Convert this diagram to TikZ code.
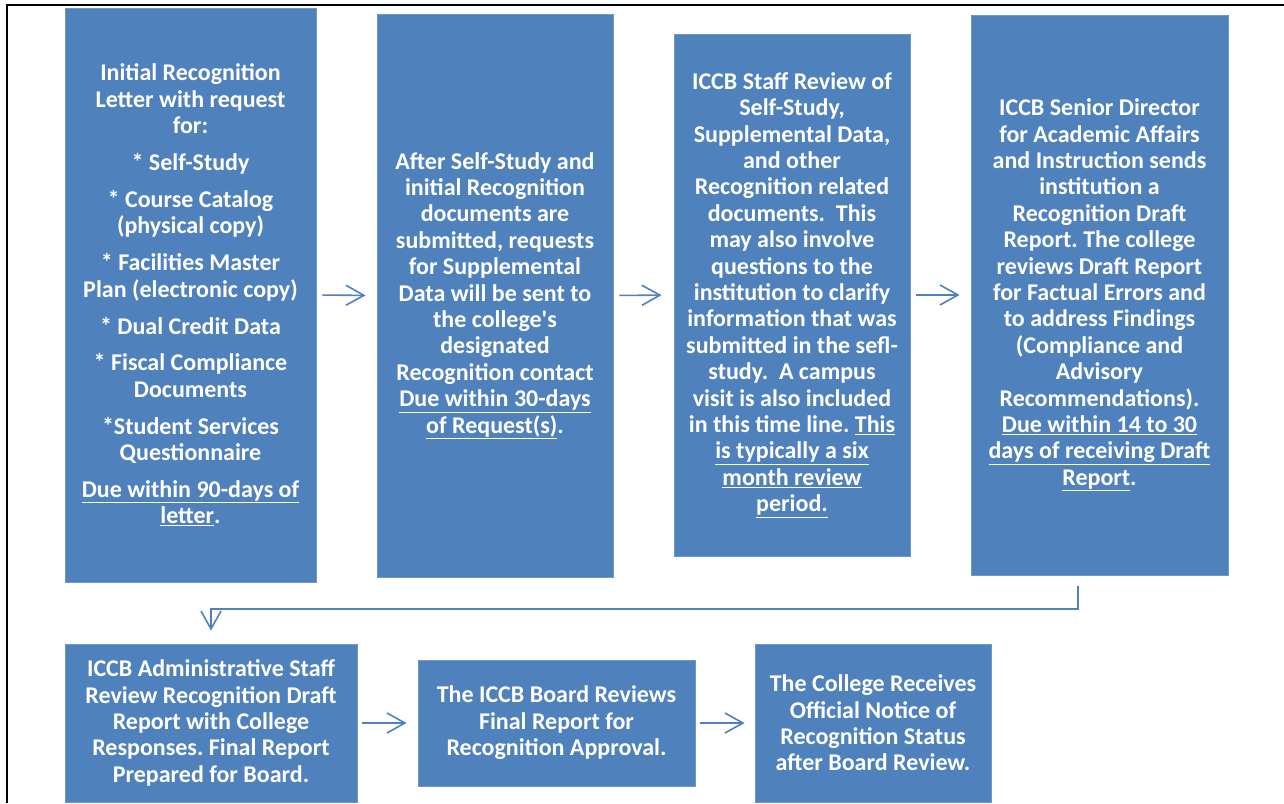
\documentclass[tikz,border=0pt]{standalone}
\usepackage{fontspec}
\setmainfont{Carlito}
\usetikzlibrary{arrows.meta}
\definecolor{boxblue}{HTML}{4F81BD}
\definecolor{edgeblue}{HTML}{7096C6}
\frenchspacing
\begin{document}
\begin{tikzpicture}[x=1pt, y=-1pt, >={Straight Barb[length=18pt,width=20pt]},
    box/.style={fill=boxblue, draw=edgeblue, line width=0.8pt, inner sep=0pt, align=center,
        text=white, font=\bfseries\fontsize{24}{26.4}\selectfont},
    link/.style={->, draw=boxblue, line width=1.6pt}]
    \useasboundingbox (0,0) rectangle (1284,803);
    \draw[line width=2pt] (1284,5) -- (6.5,5) -- (6.5,803);

    \node[box, minimum width=251pt, minimum height=574pt] (b1) at (190.5,295)
        {Initial Recognition\\ Letter with request\\ for:\\[10.5pt]
         * Self-Study\\[10.5pt]
         * Course Catalog\\ (physical copy)\\[10.5pt]
         * Facilities Master\\ Plan (electronic copy)\\[10.5pt]
         * Dual Credit Data\\[10.5pt]
         * Fiscal Compliance\\ Documents\\[10.5pt]
         *Student Services\\ Questionnaire\\[10.5pt]
         \underline{Due within 90-days of}\\ \underline{letter}.};
    \node[box, minimum width=236pt, minimum height=563pt] (b2) at (495,295.5)
        {After Self-Study and\\ initial Recognition\\ documents are\\ submitted, requests\\
         for Supplemental\\ Data will be sent to\\ the college\textquotesingle s\\ designated\\
         Recognition contact\\ \underline{Due within 30-days}\\ \underline{of Request(s)}.};
    \node[box, minimum width=236pt, minimum height=522pt] (b3) at (792,295)
        {ICCB Staff Review of\\ Self-Study,\\ Supplemental Data,\\ and other\\
         Recognition related\\ documents.\ \ This\\ may also involve\\ questions to the\\
         institution to clarify\\ information that was\\ submitted in the sefl-\\
         study.\ \ A campus\\ visit is also included\\ in this time line. \underline{This}\\
         \underline{is typically a six}\\ \underline{month review}\\ \underline{period.}};
    \node[box, minimum width=257pt, minimum height=560pt] (b4) at (1099.5,295)
        {ICCB Senior Director\\ for Academic Affairs\\ and Instruction sends\\ institution a\\
         Recognition Draft\\ Report. The college\\ reviews Draft Report\\ for Factual Errors and\\
         to address Findings\\ (Compliance and\\ Advisory\\ Recommendations).\\
         \underline{Due within 14 to 30}\\ \underline{days of receiving Draft}\\ \underline{Report}.};

    \node[box, minimum width=292pt, minimum height=158pt] (b5) at (211,723)
        {ICCB Administrative Staff\\ Review Recognition Draft\\ Report with College\\
         Responses. Final Report\\ Prepared for Board.};
    \node[box, minimum width=277pt, minimum height=126pt] (b6) at (556.5,723)
        {The ICCB Board Reviews\\ Final Report for\\ Recognition Approval.};
    \node[box, minimum width=236pt, minimum height=158pt] (b7) at (873,723)
        {The College Receives\\ Official Notice of\\ Recognition Status\\ after Board Review.};

    \draw[link, shorten <=6pt, shorten >=11pt] (b1.east) -- (b2.west);
    \draw[link, shorten <=6pt, shorten >=12pt] (b2.east) -- (b3.west);
    \draw[link, shorten <=6pt, shorten >=11pt] (b3.east) -- (b4.west);

    \coordinate (bend) at (1078,609);
    \draw[link, shorten <=11pt, shorten >=13pt] (bend |- b4.south) -- (bend) -| (b5.north);

    \draw[link, shorten <=5pt, shorten >=11pt] (b5.east) -- (b6.west);
    \draw[link, shorten <=5pt, shorten >=10pt] (b6.east) -- (b7.west);
\end{tikzpicture}
\end{document}
